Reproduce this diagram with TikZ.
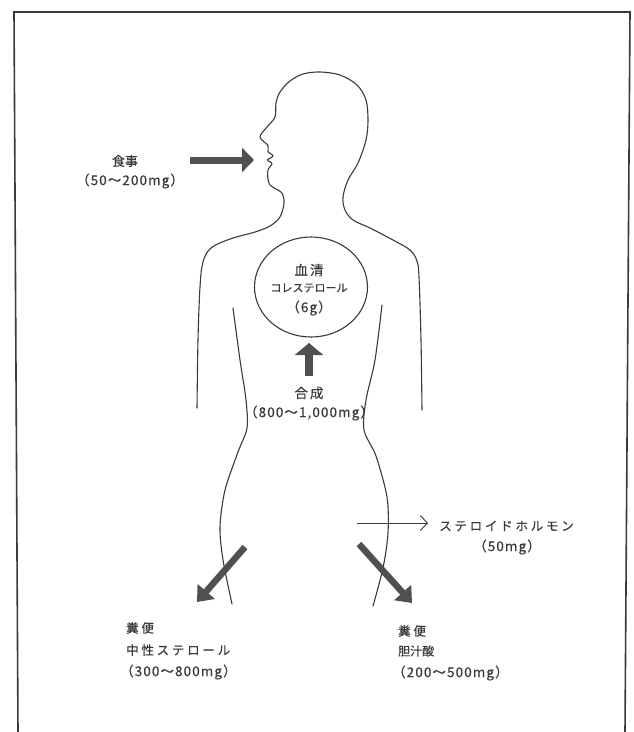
\documentclass[tikz,border=0pt]{standalone}
\usepackage{fontspec}
\newfontfamily\jp[FakeBold=0.35]{Noto Sans CJK JP}
\usetikzlibrary{arrows.meta,shapes.geometric}
\definecolor{ink}{HTML}{3A3A3A}
\definecolor{arrowgray}{HTML}{505050}
\tikzset{
  outline/.style={draw=ink, line width=1.1pt, line join=round, line cap=round},
  bigarrow/.style={draw=arrowgray, line width=7pt,
    -{Triangle[width=24pt,length=12pt]}},
  diagarrow/.style={draw=arrowgray, line width=6.5pt,
    -{Triangle[width=22pt,length=14pt]}},
  thinarrow/.style={draw=ink, line width=0.9pt,
    -{Straight Barb[width=15pt,length=7pt,line width=0.9pt]}},
  txt/.style={font=\jp\fontsize{13}{15}\selectfont, text=ink, inner sep=0pt},
  num/.style={txt, font=\jp\fontsize{13.5}{15}\selectfont\addfontfeature{LetterSpace=8}},
  wide/.style={txt, font=\jp\fontsize{12.5}{15}\selectfont\addfontfeature{LetterSpace=22}},
}
\begin{document}
\begin{tikzpicture}[x=1pt, y=-1pt]
\useasboundingbox (0,0) rectangle (634,732);
\fill[white] (0,0) rectangle (634,732);

% frame, open at the bottom
\draw[ink, line width=1.6pt, line join=miter] (18,732) -- (14,12) -- (630,12) -- (625,732);

% body silhouette: left arm, shoulder, face profile, head, neck, right shoulder, right arm
\draw[outline] plot[smooth, tension=0.55] coordinates {
  (197,408) (198,340) (200,287) (203,262) (211,248) (230,239) (255,232)
  (270,226) (280,217) (284,203) (282,193) (276,189) (270,185) (268,179)
  (268,170) (272,163.5) (267.5,160) (273,156) (268,151.5) (268,145.5) (260,137)
  (267,127) (275,117) (276,103) (280,92) (290,81) (303,74) (320,72)
  (340,75) (357,85) (366,100) (368,120) (366,140) (358,163) (348,180)
  (343,197) (345,210) (353,220) (370,228) (393,240) (410,250) (417,261)
  (419,277) (421,340) (422,410)};

% torso sides
\draw[outline] plot[smooth, tension=0.5] coordinates {
  (233,308) (240,360) (246,400) (247,428) (238,452) (225,490) (220,527)
  (223,560) (232,604)};
\draw[outline] plot[smooth, tension=0.5] coordinates {
  (382,305) (375,360) (366,400) (364,430) (376,456) (387,497) (388,533)
  (383,568) (373,606)};

% serum pool
\node[ellipse, outline, minimum width=113pt, minimum height=100pt] (serum) at (311,287) {};
\node[txt, font=\jp\fontsize{13.5}{15}\selectfont\addfontfeature{LetterSpace=15}] (serumA) at (309,270) {血清};
\node[txt, font=\jp\fontsize{11}{12}\selectfont] (serumB) at (309,288) {コレステロール};
\node[num] (serumC) at (309,308) {（6g）};

% dietary intake
\node[txt] (diet) at (125,161) {食事};
\node[num] (dietAmt) at (130,181) {（50〜200mg）};
\coordinate (dietFrom) at (190,160);
\coordinate (mouth) at (254,160);
\draw[bigarrow] (dietFrom) -- (mouth);

% synthesis
\node[txt, font=\jp\fontsize{13.5}{15}\selectfont\addfontfeature{LetterSpace=15}] (synth) at (309,393) {合成};
\node[num] (synthAmt) at (309,413) {（800〜1,000mg）};
\coordinate (synthFrom) at (309,376);
\coordinate (synthTo) at (309,343);
\draw[bigarrow, line width=8pt, -{Triangle[width=28pt,length=12pt]}] (synthFrom) -- (synthTo);

% steroid hormones
\coordinate (hormFrom) at (357,523);
\coordinate (hormTo) at (428,523);
\node[wide, anchor=west] (horm) at (439,526) {ステロイドホルモン};
\node[num] (hormAmt) at (507,547) {（50mg）};
\draw[thinarrow] (hormFrom) -- (hormTo);

% faecal neutral sterols
\coordinate (neutFrom) at (245,547);
\coordinate (neutTo) at (197,602);
\draw[diagarrow] (neutFrom) -- (neutTo);
\node[wide, anchor=west] (neutA) at (126,628) {糞便};
\node[wide, anchor=west] (neutB) at (126,650) {中性ステロール};
\node[num, anchor=west] (neutC) at (120,672) {（300〜800mg）};

% faecal bile acids
\coordinate (bileFrom) at (359,544);
\coordinate (bileTo) at (412,603);
\draw[diagarrow] (bileFrom) -- (bileTo);
\node[wide, anchor=west] (bileA) at (398,631) {糞便};
\node[txt, font=\jp\fontsize{12}{14}\selectfont, anchor=west] (bileB) at (398,651) {胆汁酸};
\node[num, anchor=west] (bileC) at (392,673) {（200〜500mg）};
\end{tikzpicture}
\end{document}
